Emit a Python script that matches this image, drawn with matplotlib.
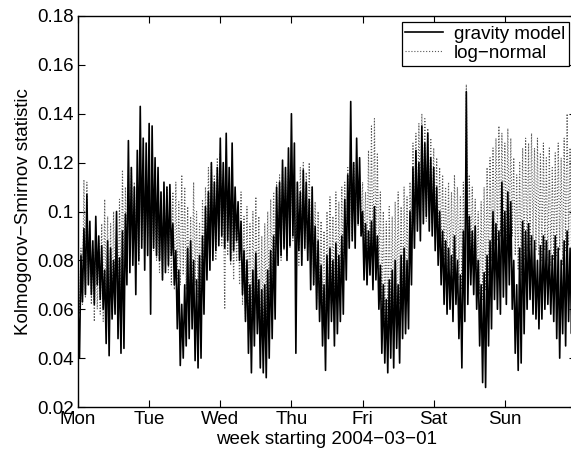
import numpy as np
import matplotlib
matplotlib.use("Agg")
import matplotlib.pyplot as plt

plt.rcParams['font.family'] = ['Liberation Sans', 'DejaVu Sans']

# Kolmogorov-Smirnov statistic (x1000),
# two samples per hour (high, low) for each day of the week
day_labels = ['Mon', 'Tue', 'Wed', 'Thu', 'Fri', 'Sat', 'Sun']

gravity = [
    # Mon
    60, 40, 82, 63, 93, 66, 107, 70, 96, 66, 88, 62, 98, 70, 90, 64,
    86, 60, 76, 46, 88, 41, 85, 56, 80, 58, 100, 48, 81, 42, 92, 44,
    99, 70, 129, 75, 118, 78, 110, 66, 125, 80, 143, 85, 130, 76, 128, 82,
    # Tue
    136, 58, 135, 85, 122, 82, 118, 80, 108, 72, 112, 75, 110, 78, 111, 82,
    95, 70, 84, 52, 76, 37, 62, 40, 70, 45, 85, 48, 88, 52, 80, 39,
    72, 36, 82, 40, 90, 58, 102, 72, 108, 76, 120, 80, 112, 84, 118, 86,
    # Wed
    130, 90, 120, 85, 132, 88, 118, 80, 128, 84, 110, 88, 104, 80, 96, 66,
    84, 55, 80, 42, 70, 34, 76, 45, 83, 50, 72, 36, 68, 34, 70, 32,
    76, 40, 84, 48, 90, 56, 110, 78, 112, 82, 121, 85, 118, 80, 126, 86,
    # Thu
    140, 90, 128, 42, 112, 84, 108, 78, 117, 85, 112, 80, 105, 68, 110, 70,
    94, 60, 88, 55, 78, 45, 70, 35, 82, 48, 85, 55, 80, 45, 87, 50,
    82, 55, 90, 58, 105, 72, 115, 85, 145, 88, 120, 85, 130, 95, 122, 90,
    # Fri
    100, 72, 95, 70, 92, 74, 96, 68, 102, 72, 90, 60, 78, 42, 70, 38,
    64, 34, 72, 40, 76, 36, 80, 44, 70, 38, 82, 48, 85, 50, 80, 52,
    100, 70, 118, 85, 125, 92, 120, 88, 135, 95, 128, 98, 132, 92, 122, 90,
    # Sat
    118, 84, 110, 78, 100, 70, 92, 62, 88, 58, 85, 60, 82, 55, 90, 62,
    80, 48, 74, 36, 92, 55, 149, 62, 98, 70, 92, 66, 94, 60, 80, 45,
    70, 30, 75, 28, 82, 45, 88, 52, 100, 64, 95, 60, 92, 58, 112, 65,
    # Sun
    100, 62, 108, 70, 104, 60, 80, 42, 70, 35, 85, 38, 96, 50, 92, 60,
    95, 64, 90, 58, 88, 56, 80, 52, 86, 56, 90, 60, 88, 62, 84, 58,
    82, 55, 90, 48, 85, 40, 80, 50, 88, 45, 92, 55, 85, 50, 88, 55,
]

lognormal = [
    # Mon
    72, 58, 85, 62, 113, 65, 112, 72, 90, 62, 85, 55, 92, 60, 88, 58,
    95, 55, 105, 60, 98, 52, 95, 58, 100, 62, 92, 60, 105, 65, 117, 72,
    110, 75, 115, 82, 118, 85, 112, 80, 110, 78, 113, 88, 108, 85, 112, 90,
    # Tue
    110, 88, 106, 84, 100, 80, 98, 75, 108, 72, 104, 78, 110, 75, 102, 70,
    108, 68, 112, 72, 104, 70, 115, 74, 110, 68, 102, 62, 98, 60, 112, 70,
    100, 65, 95, 60, 105, 70, 110, 80, 118, 82, 120, 85, 115, 80, 122, 88,
    # Wed
    124, 86, 110, 60, 118, 82, 112, 78, 108, 72, 104, 80, 100, 70, 108, 62,
    98, 56, 102, 60, 95, 50, 100, 55, 106, 58, 98, 52, 90, 48, 95, 55,
    100, 60, 105, 66, 108, 70, 112, 78, 115, 80, 118, 84, 114, 82, 120, 85,
    # Thu
    118, 88, 115, 82, 112, 78, 118, 80, 120, 84, 116, 80, 120, 78, 110, 70,
    104, 64, 100, 60, 96, 56, 92, 52, 100, 60, 106, 62, 98, 58, 108, 64,
    104, 66, 110, 70, 112, 80, 118, 88, 115, 90, 120, 92, 118, 94, 115, 90,
    # Fri
    112, 85, 108, 80, 125, 82, 135, 78, 138, 85, 124, 76, 108, 62, 100, 55,
    96, 52, 102, 58, 98, 54, 104, 60, 108, 62, 102, 58, 110, 66, 106, 64,
    112, 80, 128, 92, 132, 95, 136, 98, 140, 100, 138, 96, 134, 100, 130, 95,
    # Sat
    126, 92, 122, 88, 118, 84, 115, 80, 110, 76, 112, 78, 108, 75, 115, 80,
    110, 72, 106, 68, 112, 75, 152, 80, 115, 82, 110, 78, 105, 70, 100, 66,
    104, 64, 110, 68, 118, 74, 122, 80, 126, 86, 130, 88, 135, 90, 132, 92,
    # Sun
    128, 88, 134, 92, 130, 90, 122, 82, 115, 76, 120, 74, 126, 80, 130, 84,
    128, 86, 132, 88, 126, 84, 130, 82, 124, 80, 128, 84, 122, 80, 126, 78,
    118, 80, 124, 82, 128, 84, 122, 78, 130, 84, 140, 86, 126, 82, 124, 80,
]

gravity = np.array(gravity) / 1000.0
lognormal = np.array(lognormal) / 1000.0
t = np.arange(len(gravity)) / 48.0   # days since Monday 00:00

fig = plt.figure(figsize=(5.71, 4.57), dpi=100)
ax = fig.add_axes([78 / 571, 1 - 407 / 457, 498 / 571, 391 / 457])

ax.plot(t, lognormal, color='0.35', lw=0.8, ls=':', label='log\u2212normal')
ax.plot(t, gravity, color='black', lw=1.2, label='gravity model')

ax.set_xlim(0, 7)
ax.set_ylim(0.02, 0.18)
ax.set_xticks(range(7))
ax.set_xticklabels(day_labels)
yt = np.arange(0.02, 0.181, 0.02).round(2)
ax.set_yticks(yt)
ax.set_yticklabels(['%g' % v for v in yt])
ax.tick_params(direction='in', length=5, top=True, right=True,
               labelsize=13.5, pad=3)
for s in ax.spines.values():
    s.set_linewidth(1.0)

ax.set_xlabel('week starting 2004\u221203\u221201', fontsize=13.5, labelpad=2)
ax.set_ylabel('Kolmogorov\u2212Smirnov statistic', fontsize=13.5, labelpad=4)

h, l = ax.get_legend_handles_labels()
leg = ax.legend(h[::-1], l[::-1], loc='upper right',
                bbox_to_anchor=(569 / 571, 1 - 22 / 457),
                bbox_transform=fig.transFigure, borderaxespad=0,
                fontsize=13.5, fancybox=False, framealpha=1,
                edgecolor='black', handlelength=2.0, borderpad=0.2,
                labelspacing=0.1, handletextpad=0.6)
leg.get_frame().set_linewidth(0.9)

fig.savefig('out.png', dpi=100)
